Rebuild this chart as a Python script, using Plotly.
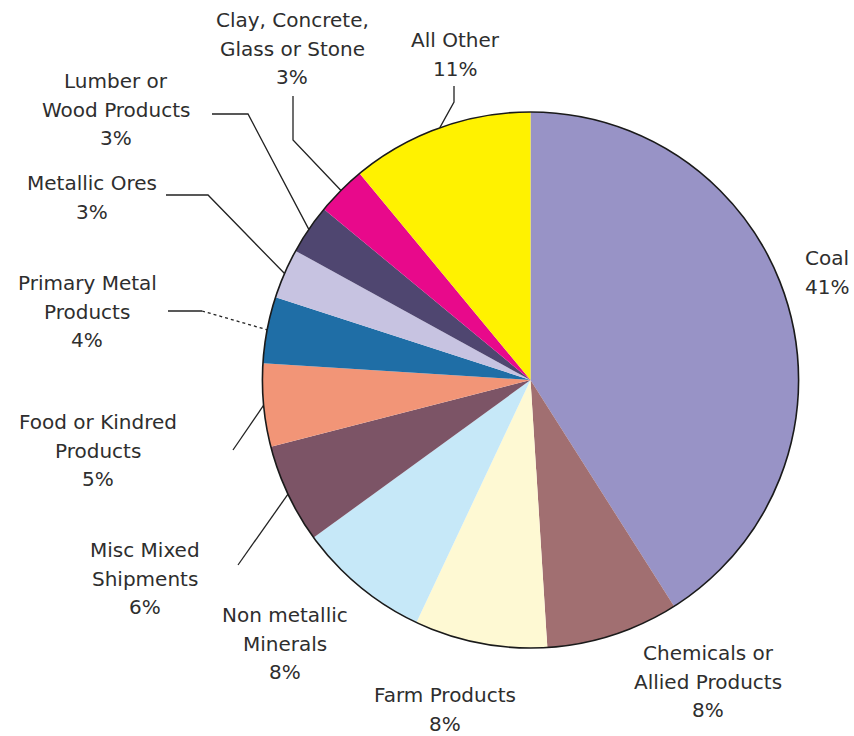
import math
import plotly.graph_objects as go

# Rail freight commodity shares (percent)
categories = [
    "Coal", "Chemicals or Allied Products", "Farm Products",
    "Non metallic Minerals", "Misc Mixed Shipments", "Food or Kindred Products",
    "Primary Metal Products", "Metallic Ores", "Lumber or Wood Products",
    "Clay, Concrete, Glass or Stone", "All Other",
]
shares = [41, 8, 8, 8, 6, 5, 4, 3, 3, 3, 11]

# label text, split into lines
label_lines = [
    ["Coal"],
    ["Chemicals or", "Allied Products"],
    ["Farm Products"],
    ["Non metallic", "Minerals"],
    ["Misc Mixed", "Shipments"],
    ["Food or Kindred", "Products"],
    ["Primary Metal", "Products"],
    ["Metallic Ores"],
    ["Lumber or", "Wood Products"],
    ["Clay, Concrete,", "Glass or Stone"],
    ["All Other"],
]

slice_colors = [
    "#9893c6", "#a16f71", "#fef9d3", "#c6e8f8", "#7c5466", "#f29577",
    "#1f6ea6", "#c7c3e1", "#4f4670", "#e8098b", "#fff200",
]

# ---- layout (pixel space of an 854 x 736 canvas) ----
W, H = 854, 736
CX, CY, R = 530.5, 380.0, 268.0
LINE_GAP = 28.5
FONT = dict(family="DejaVu Sans", size=20, color="#2e2e2e")

# label placement: (x, y of first line, anchor)
label_pos = [
    (803, 258, "left"),
    (708, 653, "center"),
    (445, 695, "center"),
    (285, 615, "center"),
    (145, 550, "center"),
    (98, 422, "center"),
    (87, 283, "center"),
    (92, 183, "center"),
    (116, 81, "center"),
    (292, 20, "center"),
    (455, 40, "center"),
]

# leader elbows: list of points from the label side toward the slice (None = no leader)
leader_pts = [
    None,
    None,
    None,
    None,
    [(238, 565)],
    [(233, 450)],
    [(168, 311), (202, 311)],
    [(166, 195), (208, 195)],
    [(212, 114), (248, 114)],
    [(293, 96), (293, 140)],
    [(454, 86), (454, 102)],
]
dotted_last = [False] * 6 + [True] + [False] * 4

fig = go.Figure()

pie_domain = dict(x=[(CX - R) / W, (CX + R) / W], y=[1 - (CY + R) / H, 1 - (CY - R) / H])

fig.add_trace(go.Pie(
    labels=categories, values=shares, sort=False, direction="clockwise",
    rotation=0, marker=dict(colors=slice_colors, line=dict(width=0)),
    textinfo="none", hoverinfo="label+percent", showlegend=False,
    domain=pie_domain,
))
# outer rim
fig.add_trace(go.Pie(
    values=[1], sort=False,
    marker=dict(colors=["rgba(0,0,0,0)"], line=dict(color="#1a1a1a", width=1.6)),
    textinfo="none", hoverinfo="skip", showlegend=False,
    domain=pie_domain,
))

total = sum(shares)
cum = 0
for i, v in enumerate(shares):
    mid = (cum + v / 2) / total * 2 * math.pi
    cum += v
    pts = leader_pts[i]
    if pts:
        rim = (CX + R * math.sin(mid), CY - R * math.cos(mid))
        path = pts + [rim]
        if dotted_last[i]:
            fig.add_trace(go.Scatter(x=[p[0] for p in path[:-1]], y=[p[1] for p in path[:-1]],
                                     mode="lines", line=dict(color="#222", width=1.3),
                                     hoverinfo="skip", showlegend=False))
            fig.add_trace(go.Scatter(x=[path[-2][0], rim[0]], y=[path[-2][1], rim[1]],
                                     mode="lines", line=dict(color="#222", width=1.3, dash="dot"),
                                     hoverinfo="skip", showlegend=False))
        else:
            fig.add_trace(go.Scatter(x=[p[0] for p in path], y=[p[1] for p in path],
                                     mode="lines", line=dict(color="#222", width=1.3),
                                     hoverinfo="skip", showlegend=False))

    lx, ly, anchor = label_pos[i]
    lines = label_lines[i] + [f"{v}%"]
    for j, t in enumerate(lines):
        fig.add_annotation(x=lx, y=ly + j * LINE_GAP, text=t, showarrow=False,
                           xanchor=anchor, yanchor="middle", font=FONT,
                           xref="x", yref="y")

fig.update_layout(
    width=W, height=H, margin=dict(l=0, r=0, t=0, b=0),
    paper_bgcolor="white", plot_bgcolor="rgba(0,0,0,0)",
    xaxis=dict(range=[0, W], visible=False, fixedrange=True),
    yaxis=dict(range=[H, 0], visible=False, fixedrange=True),
)

fig.write_html("out.html")
